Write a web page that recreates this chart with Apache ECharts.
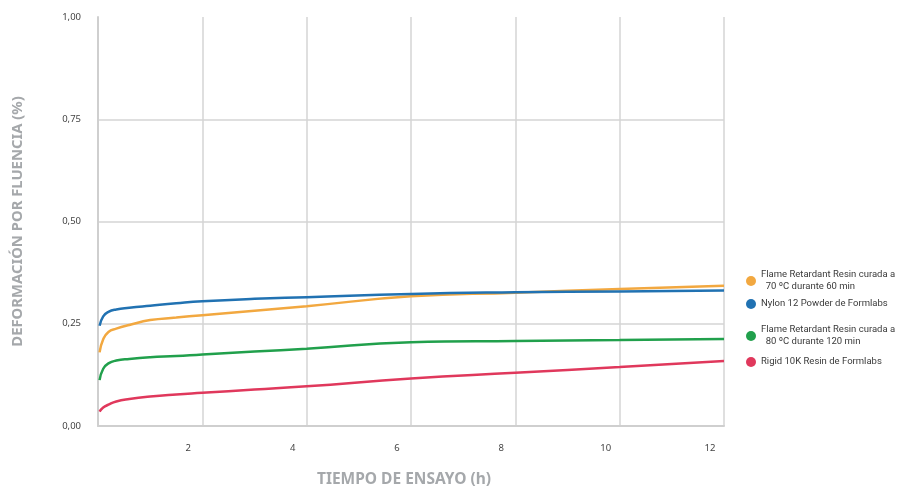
<!DOCTYPE html>
<html>
<head>
<meta charset="utf-8">
<script src="https://cdn.jsdelivr.net/npm/echarts@6/dist/echarts.min.js"></script>
<style>
  html, body { margin: 0; padding: 0; background: #fff; }
  #chart { width: 897px; height: 488px; }
</style>
</head>
<body>
<div id="chart"></div>
<script>
// tiempo de ensayo (h)
const hours = [0.03, 0.1, 0.2, 0.35, 0.6, 1.0, 1.5, 2, 3, 4, 6, 8, 10, 12]

const flame70 = [0.180, 0.212, 0.230, 0.238, 0.247, 0.259, 0.265, 0.271, 0.282, 0.293, 0.317, 0.326, 0.335, 0.343]
const nylon12 = [0.245, 0.268, 0.279, 0.285, 0.289, 0.294, 0.300, 0.305, 0.311, 0.315, 0.323, 0.327, 0.329, 0.331]
const flame80 = [0.112, 0.140, 0.153, 0.160, 0.164, 0.168, 0.171, 0.175, 0.182, 0.189, 0.205, 0.208, 0.210, 0.213]
const rigid10k = [0.035, 0.045, 0.052, 0.060, 0.066, 0.072, 0.077, 0.081, 0.089, 0.097, 0.116, 0.130, 0.144, 0.159]

const names = [
  'Flame Retardant Resin curada a\n  70 ºC durante 60 min',
  'Nylon 12 Powder de Formlabs',
  'Flame Retardant Resin curada a\n  80 ºC durante 120 min',
  'Rigid 10K Resin de Formlabs'
]
const colors = ['#F2A840', '#2172B2', '#21A04C', '#E0385C']
const values = [flame70, nylon12, flame80, rigid10k]

const pairs = (ys) => hours.map((h, i) => [h, ys[i]])

const chart = echarts.init(document.getElementById('chart'))

const legendTops = [264, 293, 319, 351]
const font = '"Noto Sans", Roboto, sans-serif'

let option = {
  backgroundColor: '#ffffff',
  animation: false,
  textStyle: { fontFamily: font },
  legend: names.map((n, i) => ({
    data: [n],
    left: 741,
    top: legendTops[i],
    icon: 'circle',
    itemWidth: 10,
    itemHeight: 10,
    itemGap: 0,
    textStyle: { color: '#3a3a3a', fontSize: 9.5, lineHeight: 12, fontFamily: 'Roboto, sans-serif' }
  })),
  grid: { left: 98, right: 173, top: 17, bottom: 62, outerBoundsMode: 'none' },
  xAxis: {
    type: 'value',
    min: 0,
    max: 12,
    interval: 2,
    name: 'TIEMPO DE ENSAYO (h)',
    nameLocation: 'middle',
    nameGap: 46,
    nameTextStyle: { color: '#a5a8ab', fontSize: 15.5, fontWeight: 'bold', fontFamily: font, padding: [0, 14, 0, 0] },
    axisLine: { show: true, lineStyle: { color: '#cfcfcf', width: 2 } },
    axisTick: { show: false },
    axisLabel: {
      color: '#444',
      fontSize: 9.5,
      margin: 17,
      padding: [0, 28, 0, 0],
      formatter: (v) => v === 0 ? '' : String(v)
    },
    splitLine: { show: true, lineStyle: { color: '#d4d4d4', width: 1.5 } }
  },
  yAxis: {
    type: 'value',
    min: 0,
    max: 1,
    interval: 0.25,
    name: 'DEFORMACIÓN POR FLUENCIA (%)',
    nameLocation: 'middle',
    nameRotate: 90,
    nameGap: 73,
    nameTextStyle: { color: '#a5a8ab', fontSize: 14.8, fontWeight: 'bold', fontFamily: font },
    axisLine: { show: true, lineStyle: { color: '#cfcfcf', width: 2 } },
    axisTick: { show: false },
    axisLabel: {
      color: '#444',
      fontSize: 9.5,
      margin: 17,
      formatter: (v) => v.toFixed(2).replace('.', ',')
    },
    splitLine: {
      show: true,
      lineStyle: { color: ['#d4d4d4', '#d4d4d4', '#d4d4d4', '#d4d4d4', 'rgba(0,0,0,0)'], width: 1.5 }
    }
  },
  series: names.map((n, i) => ({
    name: n,
    type: 'line',
    data: pairs(values[i]),
    smooth: true,
    showSymbol: false,
    symbol: 'circle',
    color: colors[i],
    lineStyle: { width: 2.5, color: colors[i] }
  }))
}

chart.setOption(option)
</script>
</body>
</html>
